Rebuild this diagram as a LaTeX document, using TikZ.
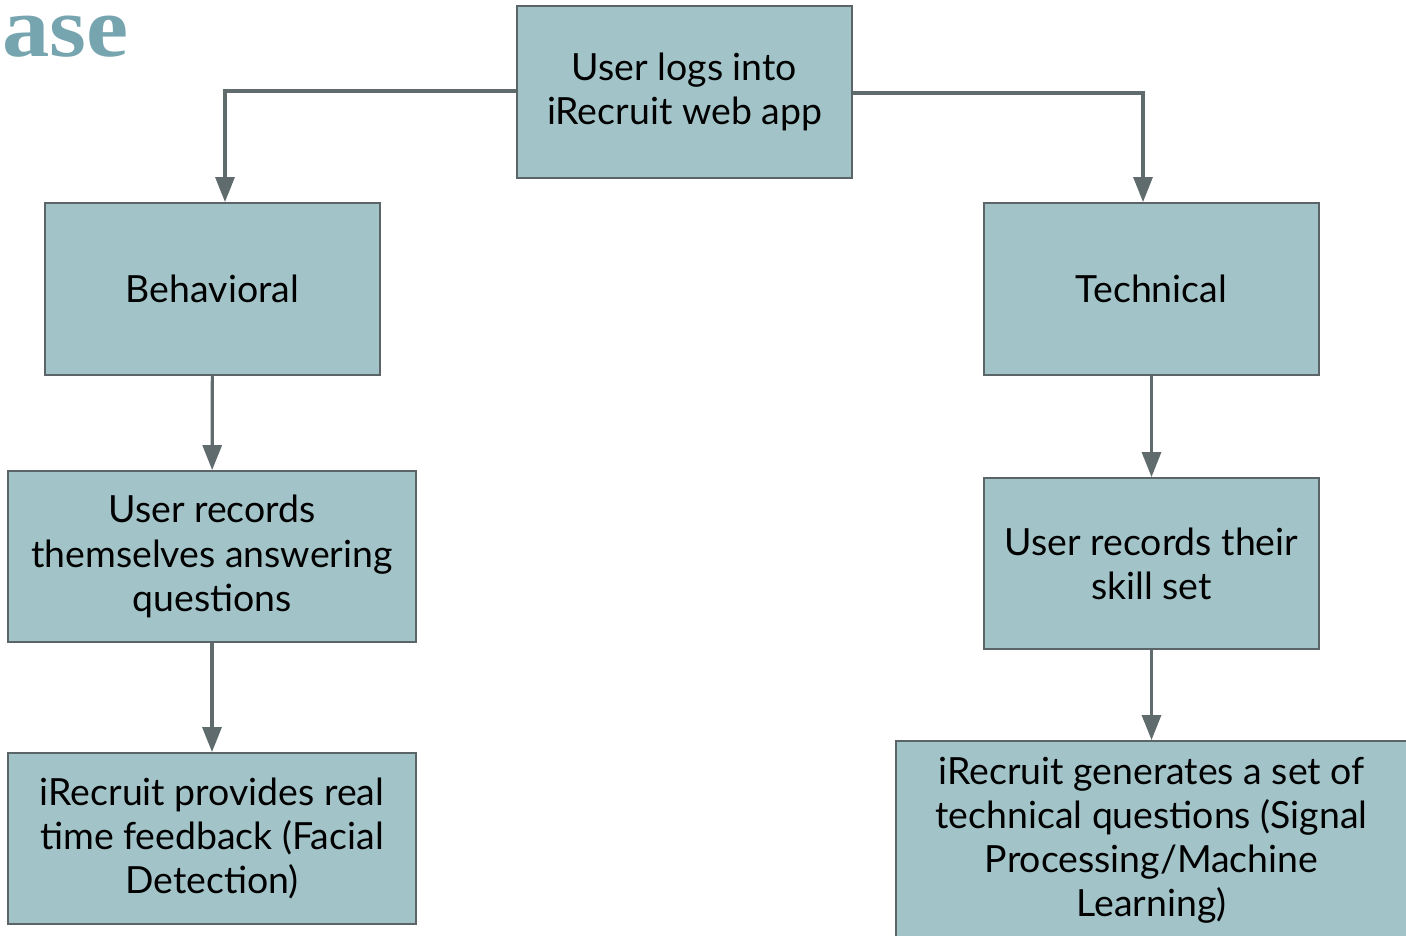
\documentclass[tikz,border=0pt]{standalone}
\usepackage{fontspec}
\setmainfont{Lato}
\newfontfamily\titlefont{Liberation Serif}
\usetikzlibrary{arrows.meta}
\definecolor{boxfill}{HTML}{A2C4C9}
\definecolor{boxline}{HTML}{5B6466}
\definecolor{arrowgrey}{HTML}{5F6B6D}
\definecolor{titleteal}{HTML}{76A5AF}

\begin{document}
\begin{tikzpicture}[x=0.02cm,y=-0.02cm,
    stepbox/.style={shape=rectangle,draw=boxline,line width=1.1pt,fill=boxfill,align=center,inner sep=0pt,
      font=\fontsize{21.3}{25.1}\selectfont},
    flow/.style={draw=arrowgrey,line width=1.8pt,-{Triangle[width=0.38cm,length=0.5cm]}}]
    \useasboundingbox (0,0) rectangle (1406,936);
    \clip (0,0) rectangle (1406,936);
    \node[anchor=base west,inner sep=0pt,xscale=1.1,text=titleteal,font=\titlefont\bfseries\fontsize{49}{49}\selectfont] (title) at (2,57) {ase};
    \node[stepbox,minimum width=6.7cm,minimum height=3.44cm] (login) at (684.5,92) {User logs into\\iRecruit web app};
    \node[stepbox,minimum width=6.7cm,minimum height=3.44cm] (behav) at (212.5,289) {Behavioral};
    \node[stepbox,minimum width=8.16cm,minimum height=3.42cm] (answer) at (212,556.5) {User records\\themselves answering\\questions};
    \node[stepbox,minimum width=8.16cm,minimum height=3.42cm] (feedback) at (212,838.5) {iRecruit provides real\\time feedback (Facial\\Detection)};
    \node[stepbox,minimum width=6.7cm,minimum height=3.44cm] (tech) at (1151.5,289) {Technical};
    \node[stepbox,minimum width=6.7cm,minimum height=3.42cm] (skills) at (1151.5,563.5) {User records their\\skill set};
    \node[stepbox,minimum width=10.24cm,minimum height=3.96cm] (generate) at (1151.5,840) {iRecruit generates a set of\\technical questions (Signal\\Processing/Machine\\Learning)};
    \draw[flow] ([yshift=0.02cm]login.west) -| ([xshift=0.25cm]behav.north);
    \draw[flow] ([yshift=-0.02cm]login.east) -| ([xshift=-0.17cm]tech.north);
    \draw[flow] (behav) -- (answer);
    \draw[flow] (answer) -- (feedback);
    \draw[flow] (tech) -- (skills);
    \draw[flow] (skills) -- (generate);
\end{tikzpicture}
\end{document}
